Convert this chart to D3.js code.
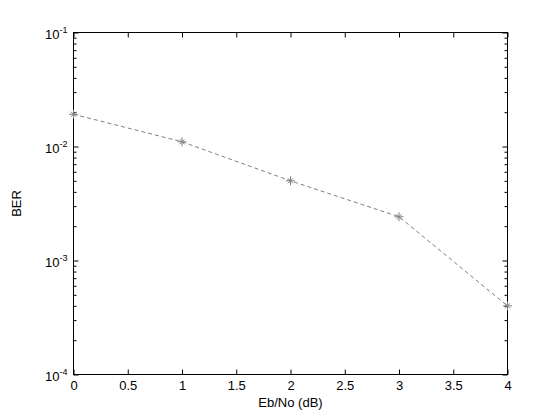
<!DOCTYPE html>
<html>
<head>
<meta charset="utf-8">
<script src="https://cdn.jsdelivr.net/npm/d3@7"></script>
<style>
  body { margin: 0; background: #fff; }
  text { font-family: "Liberation Sans", Arial, sans-serif; }
</style>
</head>
<body>
<svg id="chart" width="560" height="420"></svg>
<script>
// data
var snr = [0, 1, 2, 3, 4];
var ber = [0.0192, 0.011, 0.005, 0.00242, 0.0004];
var xTicks = [0, 0.5, 1, 1.5, 2, 2.5, 3, 3.5, 4];
var yDecades = [-4, -3, -2, -1];

var svg = d3.select("#chart");
// -- plot box (window.top is reserved, so use box* names)
var boxL = 73.5, boxR = 507.5, boxT = 32.5, boxB = 374.5;

var x = d3.scaleLinear().domain([0, 4]).range([boxL, boxR]);
var y = d3.scaleLog().domain([1e-4, 1e-1]).range([boxB, boxT]);

// minor ticks for log axis (2..9 in each decade)
var minor = [];
yDecades.slice(0, 3).forEach(function(e) {
  for (var m = 2; m < 10; m++) minor.push(m * Math.pow(10, e));
});
var majors = yDecades.map(function(e) { return Math.pow(10, e); });

var fontSize = 13;

// -- bottom axis
var gx = svg.append("g")
  .attr("transform", "translate(0," + boxB + ")")
  .call(d3.axisBottom(x).tickValues(xTicks).tickSizeInner(-5).tickSizeOuter(0)
    .tickPadding(6).tickFormat(d3.format("")));
// -- top axis (ticks only)
svg.append("g")
  .attr("transform", "translate(0," + boxT + ")")
  .call(d3.axisTop(x).tickValues(xTicks).tickSizeInner(-5).tickSizeOuter(0).tickFormat(""));

// -- left axis majors
var gy = svg.append("g")
  .attr("transform", "translate(" + boxL + ",0)")
  .call(d3.axisLeft(y).tickValues(majors).tickSizeInner(-5).tickSizeOuter(0)
    .tickPadding(12).tickFormat(""));
// -- left axis minors
svg.append("g")
  .attr("transform", "translate(" + boxL + ",0)")
  .call(d3.axisLeft(y).tickValues(minor).tickSizeInner(-3).tickSizeOuter(0).tickFormat(""));
// -- right axis
svg.append("g")
  .attr("transform", "translate(" + boxR + ",0)")
  .call(d3.axisRight(y).tickValues(majors).tickSizeInner(-5).tickSizeOuter(0).tickFormat(""));
svg.append("g")
  .attr("transform", "translate(" + boxR + ",0)")
  .call(d3.axisRight(y).tickValues(minor).tickSizeInner(-3).tickSizeOuter(0).tickFormat(""));

// remove domain paths, draw a box instead
svg.selectAll(".domain").remove();
svg.selectAll(".tick line").attr("stroke", "#000");
svg.append("rect")
  .attr("x", boxL).attr("y", boxT)
  .attr("width", boxR - boxL).attr("height", boxB - boxT)
  .attr("fill", "none").attr("stroke", "#000");

// x tick labels style
gx.selectAll("text")
  .attr("font-size", fontSize)
  .attr("fill", "#000");

// y tick labels as 10^e
gy.selectAll(".tick").each(function(d) {
  var t = d3.select(this).select("text")
    .attr("font-size", fontSize)
    .attr("fill", "#000")
    .attr("dy", "0.45em")
    .text("");
  t.append("tspan").text("10");
  t.append("tspan").attr("font-size", 9).attr("dy", "-0.6em")
    .text(String(Math.round(Math.log10(d))));
});
// shift so the exponent ends near the left edge
gy.selectAll(".tick text").attr("text-anchor", "start")
  .attr("x", function() { return -this.getComputedTextLength() - 6; });

// -- data line
var line = d3.line()
  .x(function(d, i) { return x(snr[i]); })
  .y(function(d) { return y(d); });

svg.append("path")
  .datum(ber)
  .attr("d", line)
  .attr("fill", "none")
  .attr("stroke", "#808080")
  .attr("stroke-width", 1)
  .attr("stroke-dasharray", "4,3");

// -- star markers
var star = "M-4.5,0L4.5,0M0,-4.5L0,4.5M-2.5,-2.5L2.5,2.5M-2.5,2.5L2.5,-2.5";
svg.selectAll(".marker")
  .data(ber)
  .enter()
  .append("path")
  .attr("class", "marker")
  .attr("transform", function(d, i) { return "translate(" + x(snr[i]) + "," + y(d) + ")"; })
  .attr("d", star)
  .attr("fill", "none")
  .attr("stroke", "#808080")
  .attr("stroke-width", 1);

// -- axis labels
svg.append("text")
  .attr("x", (boxL + boxR) / 2)
  .attr("y", 407)
  .attr("text-anchor", "middle")
  .attr("font-size", fontSize)
  .text("Eb/No (dB)");

svg.append("text")
  .attr("transform", "translate(21," + ((boxT + boxB) / 2) + ") rotate(-90)")
  .attr("text-anchor", "middle")
  .attr("font-size", fontSize)
  .text("BER");
</script>
</body>
</html>
